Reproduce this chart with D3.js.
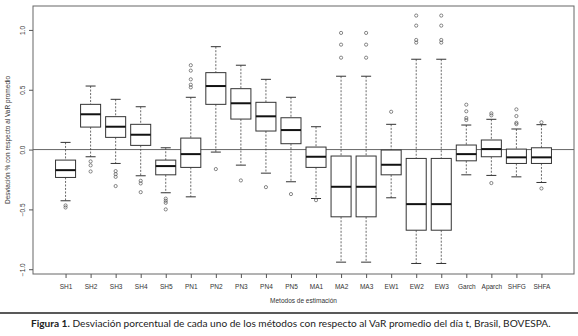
<!DOCTYPE html>
<html>
<head>
<meta charset="utf-8">
<script src="https://cdn.jsdelivr.net/npm/d3@7"></script>
<style>
  body { margin: 0; background: #fff; }
  svg { display: block; }
  .tick-lab { font-family: "Liberation Sans", Arial, sans-serif; font-size: 6.5px; fill: #333; }
  .caption { font-family: Lato, "Open Sans", sans-serif; font-size: 10px; fill: #222; }
</style>
</head>
<body>
<svg id="chart" width="578" height="336"></svg>
<script>
(function(){
"use strict";

// methods on the x axis
var metodos = ["SH1", "SH2", "SH3", "SH4", "SH5", "PN1", "PN2", "PN3", "PN4", "PN5",
               "MA1", "MA2", "MA3", "EW1", "EW2", "EW3", "Garch", "Aparch", "SHFG", "SHFA"];

// box stats
var bigoteInf = [-0.428, -0.060, -0.116, -0.219, -0.361, -0.395, -0.021, -0.130, -0.197, -0.269,
                 -0.409, -0.941, -0.941, -0.403, -0.952, -0.952, -0.211, -0.216, -0.228, -0.275];
var q1        = [-0.233,  0.188,  0.102,  0.035, -0.211, -0.149,  0.378,  0.255,  0.155,  0.049,
                 -0.149, -0.562, -0.562, -0.211, -0.674, -0.674, -0.094, -0.060, -0.116, -0.116];
var mediana   = [-0.172,  0.295,  0.191,  0.124, -0.138, -0.038,  0.531,  0.387,  0.278,  0.163,
                 -0.060, -0.311, -0.311, -0.127, -0.456, -0.456, -0.038,  0.004, -0.065, -0.065];
var q3        = [-0.088,  0.378,  0.275,  0.211, -0.088,  0.096,  0.643,  0.509,  0.395,  0.266,
                  0.021, -0.054, -0.054, -0.004, -0.074, -0.074,  0.038,  0.080,  0.004,  0.015];
var bigoteSup = [ 0.060,  0.531,  0.420,  0.358,  0.015,  0.437,  0.860,  0.705,  0.587,  0.437,
                  0.191,  0.613,  0.613,  0.211,  0.755,  0.755,  0.205,  0.253,  0.172,  0.208];
var atipicos  = [
    [-0.467, -0.484],
    [-0.099, -0.132, -0.183],
    [-0.180, -0.205, -0.228, -0.305],
    [-0.261, -0.283, -0.356],
    [-0.410, -0.428, -0.445, -0.500],
    [0.520, 0.542, 0.587, 0.660, 0.705],
    [-0.163],
    [-0.258],
    [-0.314],
    [-0.372],
    [-0.423],
    [0.768, 0.877, 0.975],
    [0.768, 0.877, 0.975],
    [0.316],
    [0.894, 0.916, 1.036, 1.120],
    [0.894, 0.916, 1.036, 1.120],
    [0.247, 0.264, 0.320, 0.375],
    [0.286, 0.303, -0.280],
    [0.213, 0.224, 0.280, 0.336],
    [0.228, -0.325]
];
var yTicks = [-1.0, -0.5, 0.0, 0.5, 1.0];

var svg = d3.select("#chart");
var plot = { left: 33, right: 574, top: 6, bottom: 274 };

var x = d3.scaleLinear().domain([-0.3, metodos.length + 1.3]).range([plot.left, plot.right]);
var y = d3.scaleLinear().domain([-1.04, 1.2]).range([plot.bottom, plot.top]);
var step = x(1) - x(0);
var halfBox = step * 0.4, halfCap = step * 0.2;

var boxes = metodos.map(function(m, i){
    return { name: m, pos: i + 1, lo: bigoteInf[i], q1: q1[i], med: mediana[i],
             q3: q3[i], hi: bigoteSup[i], out: atipicos[i] };
});

// reference line at zero
svg.append("line")
    .attr("x1", plot.left).attr("x2", plot.right)
    .attr("y1", y(0)).attr("y2", y(0))
    .attr("stroke", "#555").attr("stroke-width", 0.9);

var g = svg.selectAll("g.box").data(boxes).enter().append("g").attr("class", "box");

// whiskers (dashed)
g.append("line")
    .attr("x1", function(d){ return x(d.pos); }).attr("x2", function(d){ return x(d.pos); })
    .attr("y1", function(d){ return y(d.hi); }).attr("y2", function(d){ return y(d.q3); })
    .attr("stroke", "#444").attr("stroke-width", 0.8).attr("stroke-dasharray", "2,1.5");
g.append("line")
    .attr("x1", function(d){ return x(d.pos); }).attr("x2", function(d){ return x(d.pos); })
    .attr("y1", function(d){ return y(d.q1); }).attr("y2", function(d){ return y(d.lo); })
    .attr("stroke", "#444").attr("stroke-width", 0.8).attr("stroke-dasharray", "2,1.5");

// caps
["hi", "lo"].forEach(function(k){
    g.append("line")
        .attr("x1", function(d){ return x(d.pos) - halfCap; })
        .attr("x2", function(d){ return x(d.pos) + halfCap; })
        .attr("y1", function(d){ return y(d[k]); }).attr("y2", function(d){ return y(d[k]); })
        .attr("stroke", "#333").attr("stroke-width", 1);
});

// box
g.append("rect")
    .attr("x", function(d){ return x(d.pos) - halfBox; })
    .attr("width", halfBox * 2)
    .attr("y", function(d){ return y(d.q3); })
    .attr("height", function(d){ return y(d.q1) - y(d.q3); })
    .attr("fill", "#fff").attr("stroke", "#333").attr("stroke-width", 1);

// median
g.append("line")
    .attr("x1", function(d){ return x(d.pos) - halfBox; })
    .attr("x2", function(d){ return x(d.pos) + halfBox; })
    .attr("y1", function(d){ return y(d.med); }).attr("y2", function(d){ return y(d.med); })
    .attr("stroke", "#111").attr("stroke-width", 2);

// outliers
g.selectAll("circle")
    .data(function(d){ return d.out.map(function(v){ return { pos: d.pos, v: v }; }); })
    .enter().append("circle")
    .attr("cx", function(d){ return x(d.pos); })
    .attr("cy", function(d){ return y(d.v); })
    .attr("r", 1.6)
    .attr("fill", "none").attr("stroke", "#555").attr("stroke-width", 0.7);

// frame
svg.append("rect")
    .attr("x", plot.left).attr("y", plot.top)
    .attr("width", plot.right - plot.left).attr("height", plot.bottom - plot.top)
    .attr("fill", "none").attr("stroke", "#666").attr("stroke-width", 1);

// x axis
var xAxis = d3.axisBottom(x)
    .tickValues(d3.range(1, metodos.length + 1))
    .tickFormat(function(d){ return metodos[d - 1]; })
    .tickSize(4).tickPadding(6);
var gx = svg.append("g").attr("transform", "translate(0," + plot.bottom + ")").call(xAxis);
gx.select(".domain").remove();
gx.selectAll("line").attr("stroke", "#555");
gx.selectAll("text").attr("class", "tick-lab").attr("font-size", null).attr("font-family", null);

// y axis, labels parallel to the axis
var yAxis = d3.axisLeft(y).tickValues(yTicks).tickFormat(d3.format(".1f")).tickSize(4);
var gy = svg.append("g").attr("transform", "translate(" + plot.left + ",0)").call(yAxis);
gy.select(".domain").remove();
gy.selectAll("line").attr("stroke", "#555");
gy.selectAll("text")
    .attr("class", "tick-lab").attr("font-size", null).attr("font-family", null)
    .attr("x", null).attr("dy", null)
    .attr("text-anchor", "middle")
    .attr("transform", "translate(-8,0) rotate(-90)");

// axis titles
svg.append("text")
    .attr("class", "tick-lab")
    .attr("text-anchor", "middle")
    .attr("transform", "translate(10," + ((plot.top + plot.bottom) / 2) + ") rotate(-90)")
    .text("Desviación % con respecto al VaR promedio");
svg.append("text")
    .attr("class", "tick-lab")
    .attr("text-anchor", "middle")
    .attr("x", (plot.left + plot.right) / 2).attr("y", 303)
    .text("Metodos de estimación");

// caption separator and caption
svg.append("line")
    .attr("x1", 0).attr("x2", 578).attr("y1", 313).attr("y2", 313)
    .attr("stroke", "#222").attr("stroke-width", 1.3);

var cap = svg.append("text").attr("class", "caption").attr("x", 31).attr("y", 327);
cap.append("tspan").attr("font-weight", "bold").text("Figura 1.");
cap.append("tspan").text(" Desviación porcentual de cada uno de los métodos con respecto al VaR promedio del día t, Brasil, BOVESPA.");
var w = cap.node().getComputedTextLength();
cap.style("font-size", (10 * 520 / w) + "px");

})();
</script>
</body>
</html>
